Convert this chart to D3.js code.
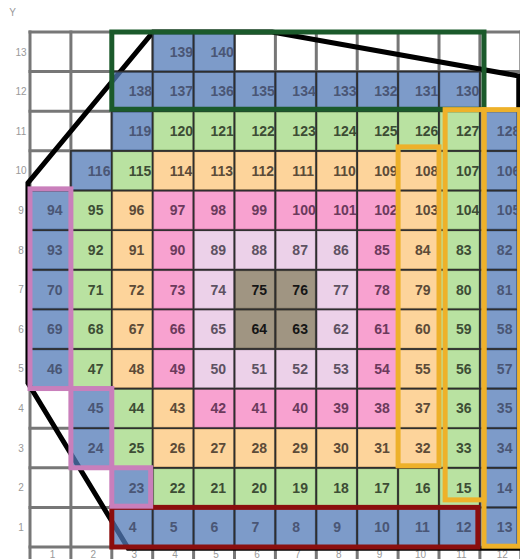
<!DOCTYPE html>
<html>
<head>
<meta charset="utf-8">
<script src="https://cdn.jsdelivr.net/npm/d3@7"></script>
<style>
  html, body { margin: 0; padding: 0; background: #fff; }
  svg { display: block; }
</style>
</head>
<body>
<div id="chart"></div>
<script>
// ---------- data ----------
const xTicks = [1, 2, 3, 4, 5, 6, 7, 8, 9, 10, 11, 12];
const yTicks = [1, 2, 3, 4, 5, 6, 7, 8, 9, 10, 11, 12, 13];
const ringNames = ["ring 0", "ring 1", "ring 2", "ring 3", "ring 4", "core"];

// labels per row (y = 1 .. 13), columns x = 1 .. 12, null = empty cell
const rowLabels = [
  [null, null, 4, 5, 6, 7, 8, 9, 10, 11, 12, 13],
  [null, null, 23, 22, 21, 20, 19, 18, 17, 16, 15, 14],
  [null, 24, 25, 26, 27, 28, 29, 30, 31, 32, 33, 34],
  [null, 45, 44, 43, 42, 41, 40, 39, 38, 37, 36, 35],
  [46, 47, 48, 49, 50, 51, 52, 53, 54, 55, 56, 57],
  [69, 68, 67, 66, 65, 64, 63, 62, 61, 60, 59, 58],
  [70, 71, 72, 73, 74, 75, 76, 77, 78, 79, 80, 81],
  [93, 92, 91, 90, 89, 88, 87, 86, 85, 84, 83, 82],
  [94, 95, 96, 97, 98, 99, 100, 101, 102, 103, 104, 105],
  [null, 116, 115, 114, 113, 112, 111, 110, 109, 108, 107, 106],
  [null, null, 119, 120, 121, 122, 123, 124, 125, 126, 127, 128],
  [null, null, 138, 137, 136, 135, 134, 133, 132, 131, 130, null],
  [null, null, null, 139, 140, null, null, null, null, null, null, null]
];
// ring index per cell, same layout
const rowRings = [
  [null, null, 0, 0, 0, 0, 0, 0, 0, 0, 0, 0],
  [null, null, 0, 1, 1, 1, 1, 1, 1, 1, 1, 0],
  [null, 0, 1, 2, 2, 2, 2, 2, 2, 2, 1, 0],
  [null, 0, 1, 2, 3, 3, 3, 3, 3, 2, 1, 0],
  [0, 1, 2, 3, 4, 4, 4, 4, 3, 2, 1, 0],
  [0, 1, 2, 3, 4, 5, 5, 4, 3, 2, 1, 0],
  [0, 1, 2, 3, 4, 5, 5, 4, 3, 2, 1, 0],
  [0, 1, 2, 3, 4, 4, 4, 4, 3, 2, 1, 0],
  [0, 1, 2, 3, 3, 3, 3, 3, 3, 2, 1, 0],
  [null, 0, 1, 2, 2, 2, 2, 2, 2, 2, 1, 0],
  [null, null, 0, 1, 1, 1, 1, 1, 1, 1, 1, 0],
  [null, null, 0, 0, 0, 0, 0, 0, 0, 0, 0, null],
  [null, null, null, 0, 0, null, null, null, null, null, null, null]
];

// outline polygon (data units)
const hullX = [3.51, 6.42, 12.45, 12.45, 2.9, 0.45, 0.45];
const hullY = [13.5, 13.5, 12.39, 0.47, 0.47, 4.64, 9.69];

// highlighted groups: extents in data units
const boxNames = ["top", "bottom", "left-a", "left-b", "left-c", "right-a", "right-b", "right-c"];
const boxX0 = [2.5, 2.5, 0.5, 1.5, 2.5, 9.5, 10.65, 11.6];
const boxX1 = [11.6, 11.45, 1.5, 2.5, 3.45, 10.5, 11.6, 12.47];
const boxY0 = [11.55, 0.5, 4.5, 2.5, 1.53, 2.55, 1.69, 0.52];
const boxY1 = [13.5, 1.5, 9.54, 4.5, 2.5, 10.6, 11.54, 11.54];
const boxKind = ["green", "maroon", "pink", "pink", "pink", "gold", "gold", "gold"];

// ---------- styles ----------
const ringFill = ["#527ab7", "#a2d882", "#fcc67a", "#f683c0", "#e6c2e2", "#807258"];
const ringText = ["#4a5675", "#3d4d35", "#5c4b38", "#6b3a5c", "#5d5262", "#151515"];
const boxColor = { green: "#1b5a2b", maroon: "#8b0e0e", pink: "#c97fbb", gold: "#eeb12a" };

const W = 520, H = 559;
const svg = d3.select("#chart").append("svg").attr("width", W).attr("height", H);

const x = d3.scaleLinear().domain([0.5, 12.5]).range([30, 520.8]);
const y = d3.scaleLinear().domain([0.5, 13.5]).range([547, 32]);

// grid
const grid = svg.append("g").attr("stroke", "#777").attr("stroke-width", 3);
d3.range(0.5, 13.0, 1).forEach(v => {
  grid.append("line").attr("x1", x(v)).attr("x2", x(v)).attr("y1", y(13.5) - 1.5).attr("y2", 562);
});
d3.range(0.5, 14.0, 1).forEach(v => {
  grid.append("line").attr("x1", x(0.5) - 1.5).attr("x2", x(12.5)).attr("y1", y(v)).attr("y2", y(v));
});

// axes (labels only)
const xAxis = svg.append("g").attr("transform", `translate(0,${y(0.5)})`)
  .call(d3.axisBottom(x).tickValues(xTicks).tickSize(0).tickPadding(4));
xAxis.select(".domain").remove();
xAxis.selectAll("text").attr("font-family", "Liberation Sans, Arial, sans-serif")
  .attr("font-size", 10).attr("fill", "#999").attr("dx", 1.5);

const yAxis = svg.append("g").attr("transform", `translate(${x(0.5)},0)`)
  .call(d3.axisLeft(y).tickValues(yTicks).tickSize(0).tickPadding(4));
yAxis.select(".domain").remove();
yAxis.selectAll("text").attr("font-family", "Liberation Sans, Arial, sans-serif")
  .attr("font-size", 10).attr("fill", "#999")
  .attr("text-anchor", "middle").attr("x", -9);

svg.append("text").attr("x", 12.5).attr("y", 16).attr("text-anchor", "middle")
  .attr("font-family", "Liberation Sans, Arial, sans-serif").attr("font-size", 10)
  .attr("fill", "#999").text("Y");

// hull polygon (under cells)
const hullPts = hullX.map((v, i) => [x(v), y(hullY[i])]);
svg.append("path")
  .attr("d", d3.line()(hullPts) + "Z")
  .attr("fill", "none").attr("stroke", "#000").attr("stroke-width", 5)
  .attr("stroke-linejoin", "miter");

// cells
const cells = [];
rowLabels.forEach((row, ri) => {
  row.forEach((lab, ci) => {
    if (lab !== null) cells.push({ col: ci + 1, row: ri + 1, label: lab, ring: rowRings[ri][ci] });
  });
});
const cw = x(1.5) - x(0.5), ch = y(0.5) - y(1.5);
const cg = svg.append("g").selectAll("g").data(cells).join("g");
cg.append("rect")
  .attr("x", d => x(d.col - 0.5)).attr("y", d => y(d.row + 0.5))
  .attr("width", cw).attr("height", ch)
  .attr("fill", d => ringFill[d.ring]).attr("fill-opacity", 0.75)
  .attr("stroke", "#2e2e2e").attr("stroke-width", 1.6);
cg.append("text")
  .attr("x", d => x(d.col) - 3.5).attr("y", d => y(d.row) + 5)
  .attr("font-family", "Liberation Sans, Arial, sans-serif")
  .attr("font-weight", "bold").attr("font-size", 14)
  .attr("fill", d => ringText[d.ring])
  .text(d => d.label);

// highlight boxes
const boxes = boxNames.map((n, i) => ({ name: n, x0: boxX0[i], x1: boxX1[i], y0: boxY0[i], y1: boxY1[i], kind: boxKind[i] }));
svg.append("g").selectAll("rect").data(boxes).join("rect")
  .attr("x", d => x(d.x0)).attr("y", d => y(d.y1))
  .attr("width", d => x(d.x1) - x(d.x0)).attr("height", d => y(d.y0) - y(d.y1))
  .attr("fill", "none").attr("stroke", d => boxColor[d.kind]).attr("stroke-width", 5);
</script>
</body>
</html>
